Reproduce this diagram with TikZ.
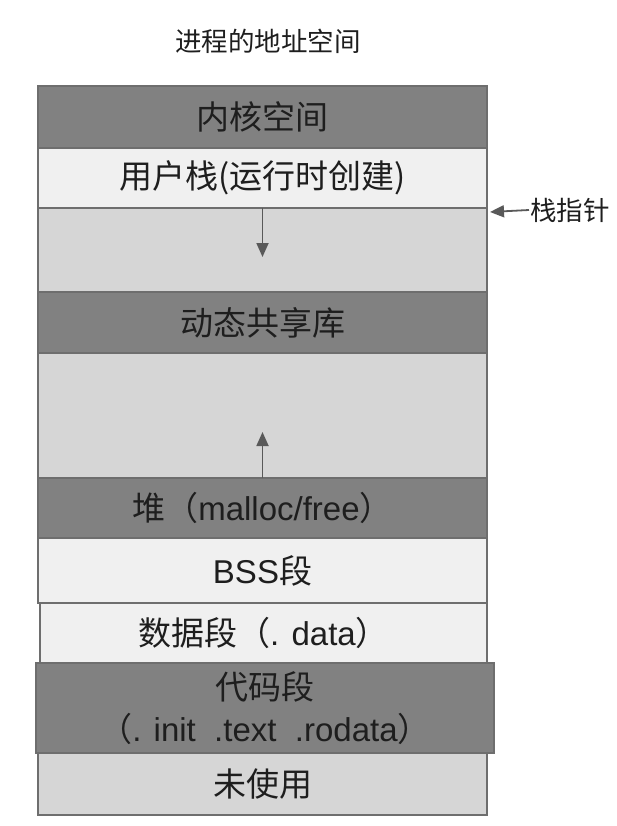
\documentclass[tikz,border=0pt]{standalone}
\usepackage{fontspec}
\setmainfont{Liberation Sans}
\newfontfamily\cjk{Noto Sans CJK SC}
\usetikzlibrary{arrows.meta,positioning}
\definecolor{sdark}{HTML}{818181}
\definecolor{slight}{HTML}{F0F0F0}
\definecolor{smid}{HTML}{D6D6D6}
\definecolor{sline}{HTML}{6E6E6E}
\definecolor{sarrow}{HTML}{595959}
\definecolor{sink}{HTML}{1E1E1E}

\begin{document}
\begin{tikzpicture}[x=1pt,y=1pt,>={Triangle[length=14pt,width=12pt]},node distance=0pt,
  seg/.style={draw=sline,line width=1.2pt,minimum width=449pt,inner sep=0pt,outer sep=0pt,
              align=center,font=\fontsize{33}{42}\selectfont,text=sink},
  dark/.style={seg,fill=sdark},
  light/.style={seg,fill=slight},
  mid/.style={seg,fill=smid},
  lbl/.style={font=\cjk\fontsize{26.5}{30}\selectfont,text=sink,inner sep=1pt},
  growline/.style={->,line width=1.8pt,draw=sarrow}]

\useasboundingbox (0,0) rectangle (616,-826);

\node[lbl] (title) at (268,-41) {进程的地址空间};

% segments, top to bottom
\node[dark,minimum height=62pt,anchor=north west] (kernel) at (38,-86) {\cjk 内核空间};
\node[light,minimum height=60pt,below=of kernel] (stack) {\cjk 用户栈(运行时创建)};
\node[mid,minimum height=84pt,below=of stack] (stackfree) {};
\node[dark,minimum height=61pt,below=of stackfree] (shlib) {\cjk 动态共享库};
\node[mid,minimum height=125pt,below=of shlib] (heapfree) {};
\node[dark,minimum height=60pt,below=of heapfree] (heap) {{\cjk 堆（}malloc/free{\cjk ）}};
\node[light,minimum height=65pt,below=of heap] (bss) {BSS{\cjk 段}};
\node[light,minimum height=60pt,minimum width=447pt,below=of bss,xshift=1pt] (data) {{\cjk 数据段（}. data{\cjk ）}};
\node[dark,minimum height=90pt,minimum width=458pt,below=of data,xshift=1.5pt] (code)
  {{\cjk 代码段}\\{\cjk （}. init\ \ .text\ \ .rodata{\cjk ）}};
\node[mid,minimum height=62pt,below=of code,xshift=-2.5pt] (unused) {\cjk 未使用};

% growth directions
\coordinate (stacktip) at ([yshift=-49pt]stack.south);
\coordinate (heaptip) at ([yshift=46pt]heap.north);
\draw[growline] (stack.south) -- (stacktip);
\draw[growline] (heap.north) -- (heaptip);

\node[lbl,anchor=west] (sp) at (529,-210) {栈指针};
\coordinate (sptip) at ([xshift=3pt,yshift=-4pt]stack.south east);
\draw[growline] (sp.west) -- (sptip);
\end{tikzpicture}
\end{document}
